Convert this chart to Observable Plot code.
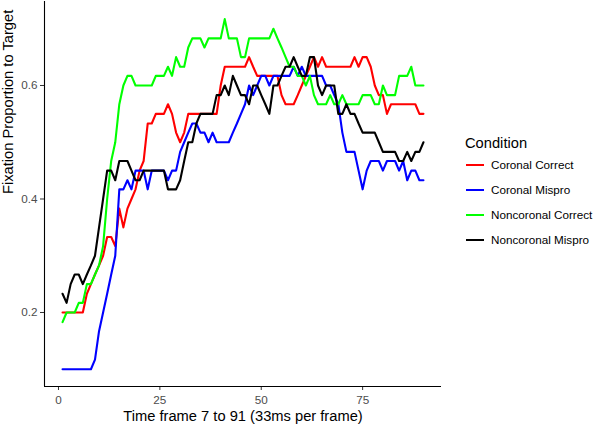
<!DOCTYPE html>
<html><head><meta charset="utf-8">
<script src="https://cdn.jsdelivr.net/npm/d3@7"></script>
<script src="https://cdn.jsdelivr.net/npm/@observablehq/plot@0.6"></script>
<style>
body{margin:0;background:#fff;font-family:"Liberation Sans",Arial,sans-serif;}
#wrap{position:relative;width:600px;height:430px;background:#fff;}
#chart{position:absolute;left:0;top:0;}
#legend{position:absolute;left:465px;top:135px;color:#000;}
#legend .ttl{font-size:14.7px;height:17px;line-height:17px;}
#legend .row{height:25px;display:flex;align-items:center;font-size:11.7px;}
#legend .sw{display:inline-block;width:18px;height:2px;margin-left:1px;margin-right:7px;}
</style></head>
<body><div id="wrap"><div id="chart"></div><div id="legend"></div></div>
<script>
const conditions = ["Coronal Correct", "Coronal Mispro", "Noncoronal Correct", "Noncoronal Mispro"];
const colors = ["#ff0000", "#0000ff", "#00ff00", "#000000"];
const xTicks = [0, 25, 50, 75];
const yTicks = [0.2, 0.4, 0.6];
const xTitle = "Time frame 7 to 91 (33ms per frame)";
const yTitle = "Fixation Proportion to Target";
const legendTitle = "Condition";

// frames 1..90
const coronalCorrect = [0.2,0.2,0.2,0.2,0.2,0.2,0.233,0.25,0.267,0.283,0.3,0.333,0.333,0.317,0.383,0.35,0.383,0.4,0.417,0.45,0.467,0.533,0.533,0.55,0.55,0.55,0.567,0.55,0.517,0.5,0.517,0.55,0.55,0.55,0.55,0.55,0.55,0.55,0.55,0.6,0.633,0.633,0.633,0.633,0.633,0.633,0.65,0.633,0.617,0.617,0.617,0.617,0.617,0.617,0.583,0.567,0.567,0.567,0.583,0.6,0.617,0.633,0.65,0.633,0.65,0.633,0.633,0.633,0.633,0.633,0.633,0.633,0.65,0.633,0.65,0.65,0.633,0.6,0.583,0.583,0.55,0.567,0.567,0.567,0.567,0.567,0.567,0.567,0.55,0.55];
const coronalMispro = [0.1,0.1,0.1,0.1,0.1,0.1,0.1,0.1,0.117,0.167,0.2,0.233,0.267,0.3,0.417,0.417,0.433,0.417,0.45,0.45,0.45,0.417,0.45,0.45,0.45,0.45,0.433,0.45,0.45,0.483,0.5,0.517,0.533,0.533,0.517,0.517,0.5,0.517,0.5,0.5,0.5,0.5,0.517,0.533,0.55,0.567,0.6,0.583,0.6,0.617,0.617,0.6,0.617,0.617,0.617,0.617,0.617,0.633,0.617,0.633,0.617,0.617,0.617,0.617,0.617,0.6,0.6,0.583,0.567,0.517,0.483,0.483,0.483,0.45,0.417,0.45,0.467,0.467,0.467,0.45,0.467,0.467,0.467,0.45,0.467,0.433,0.45,0.45,0.433,0.433];
const noncoronalCorrect = [0.183,0.2,0.2,0.2,0.217,0.217,0.25,0.25,0.267,0.283,0.317,0.4,0.467,0.5,0.567,0.6,0.617,0.617,0.6,0.6,0.6,0.6,0.6,0.617,0.617,0.617,0.633,0.617,0.65,0.633,0.633,0.667,0.683,0.683,0.683,0.667,0.683,0.683,0.683,0.683,0.717,0.683,0.683,0.683,0.65,0.65,0.683,0.683,0.683,0.683,0.683,0.683,0.7,0.683,0.667,0.65,0.633,0.633,0.617,0.617,0.6,0.617,0.583,0.567,0.567,0.567,0.583,0.567,0.567,0.583,0.567,0.567,0.567,0.567,0.583,0.583,0.583,0.567,0.567,0.6,0.583,0.583,0.583,0.617,0.617,0.617,0.633,0.6,0.6,0.6];
const noncoronalMispro = [0.233,0.217,0.25,0.267,0.267,0.25,0.267,0.283,0.3,0.35,0.4,0.45,0.45,0.433,0.467,0.467,0.467,0.45,0.433,0.433,0.45,0.45,0.45,0.45,0.45,0.45,0.417,0.417,0.417,0.433,0.467,0.5,0.5,0.533,0.55,0.55,0.55,0.55,0.583,0.583,0.6,0.583,0.617,0.6,0.583,0.583,0.567,0.6,0.6,0.583,0.567,0.55,0.6,0.6,0.617,0.633,0.633,0.65,0.633,0.617,0.617,0.65,0.65,0.6,0.583,0.6,0.6,0.6,0.55,0.55,0.567,0.55,0.55,0.533,0.517,0.517,0.517,0.517,0.5,0.483,0.483,0.483,0.483,0.467,0.467,0.483,0.467,0.483,0.483,0.5];

const seriesValues = [coronalCorrect, coronalMispro, noncoronalCorrect, noncoronalMispro];
const rows = [];
conditions.forEach((c, k) => {
  seriesValues[k].forEach((v, i) => rows.push({condition: c, frame: i + 1, value: v}));
});

const xDomain = [-3.45, 94.45];
const yDomain = [0.0696, 0.748];
const font = "Liberation Sans, Arial, sans-serif";
const plot = Plot.plot({
  width: 445, height: 430,
  marginLeft: 44, marginRight: 4, marginTop: 1, marginBottom: 44,
  style: {fontFamily: font, background: "white", overflow: "visible"},
  x: {domain: xDomain},
  y: {domain: yDomain},
  color: {domain: conditions, range: colors},
  marks: [
    Plot.axisX({ticks: xTicks, tickSize: 4, tickPadding: 5, label: null,
      stroke: "#333", fill: "#4d4d4d", fontSize: 11.7}),
    Plot.axisY({ticks: yTicks, tickSize: 4, tickPadding: 3, label: null,
      tickFormat: d3.format(".1f"), stroke: "#333", fill: "#4d4d4d", fontSize: 11.7}),
    Plot.ruleX([xDomain[0]], {stroke: "black", strokeWidth: 1.1}),
    Plot.ruleY([yDomain[0]], {stroke: "black", strokeWidth: 1.1}),
    Plot.line(rows, {x: "frame", y: "value", z: "condition", stroke: "condition", strokeWidth: 2.1, strokeLinejoin: "round"}),
    Plot.text([xTitle], {text: d => d, frameAnchor: "bottom", dy: 34, fontSize: 14.7, fill: "black"}),
    Plot.text([yTitle], {text: d => d, frameAnchor: "left", dx: -36, rotate: -90, fontSize: 14.7, fill: "black"})
  ]
});
document.getElementById("chart").appendChild(plot);

const lg = d3.select("#legend");
lg.append("div").attr("class", "ttl").text(legendTitle);
conditions.forEach((c, k) => {
  const r = lg.append("div").attr("class", "row");
  r.append("span").attr("class", "sw").style("background", colors[k]);
  r.append("span").text(c);
});
</script>
</body></html>
